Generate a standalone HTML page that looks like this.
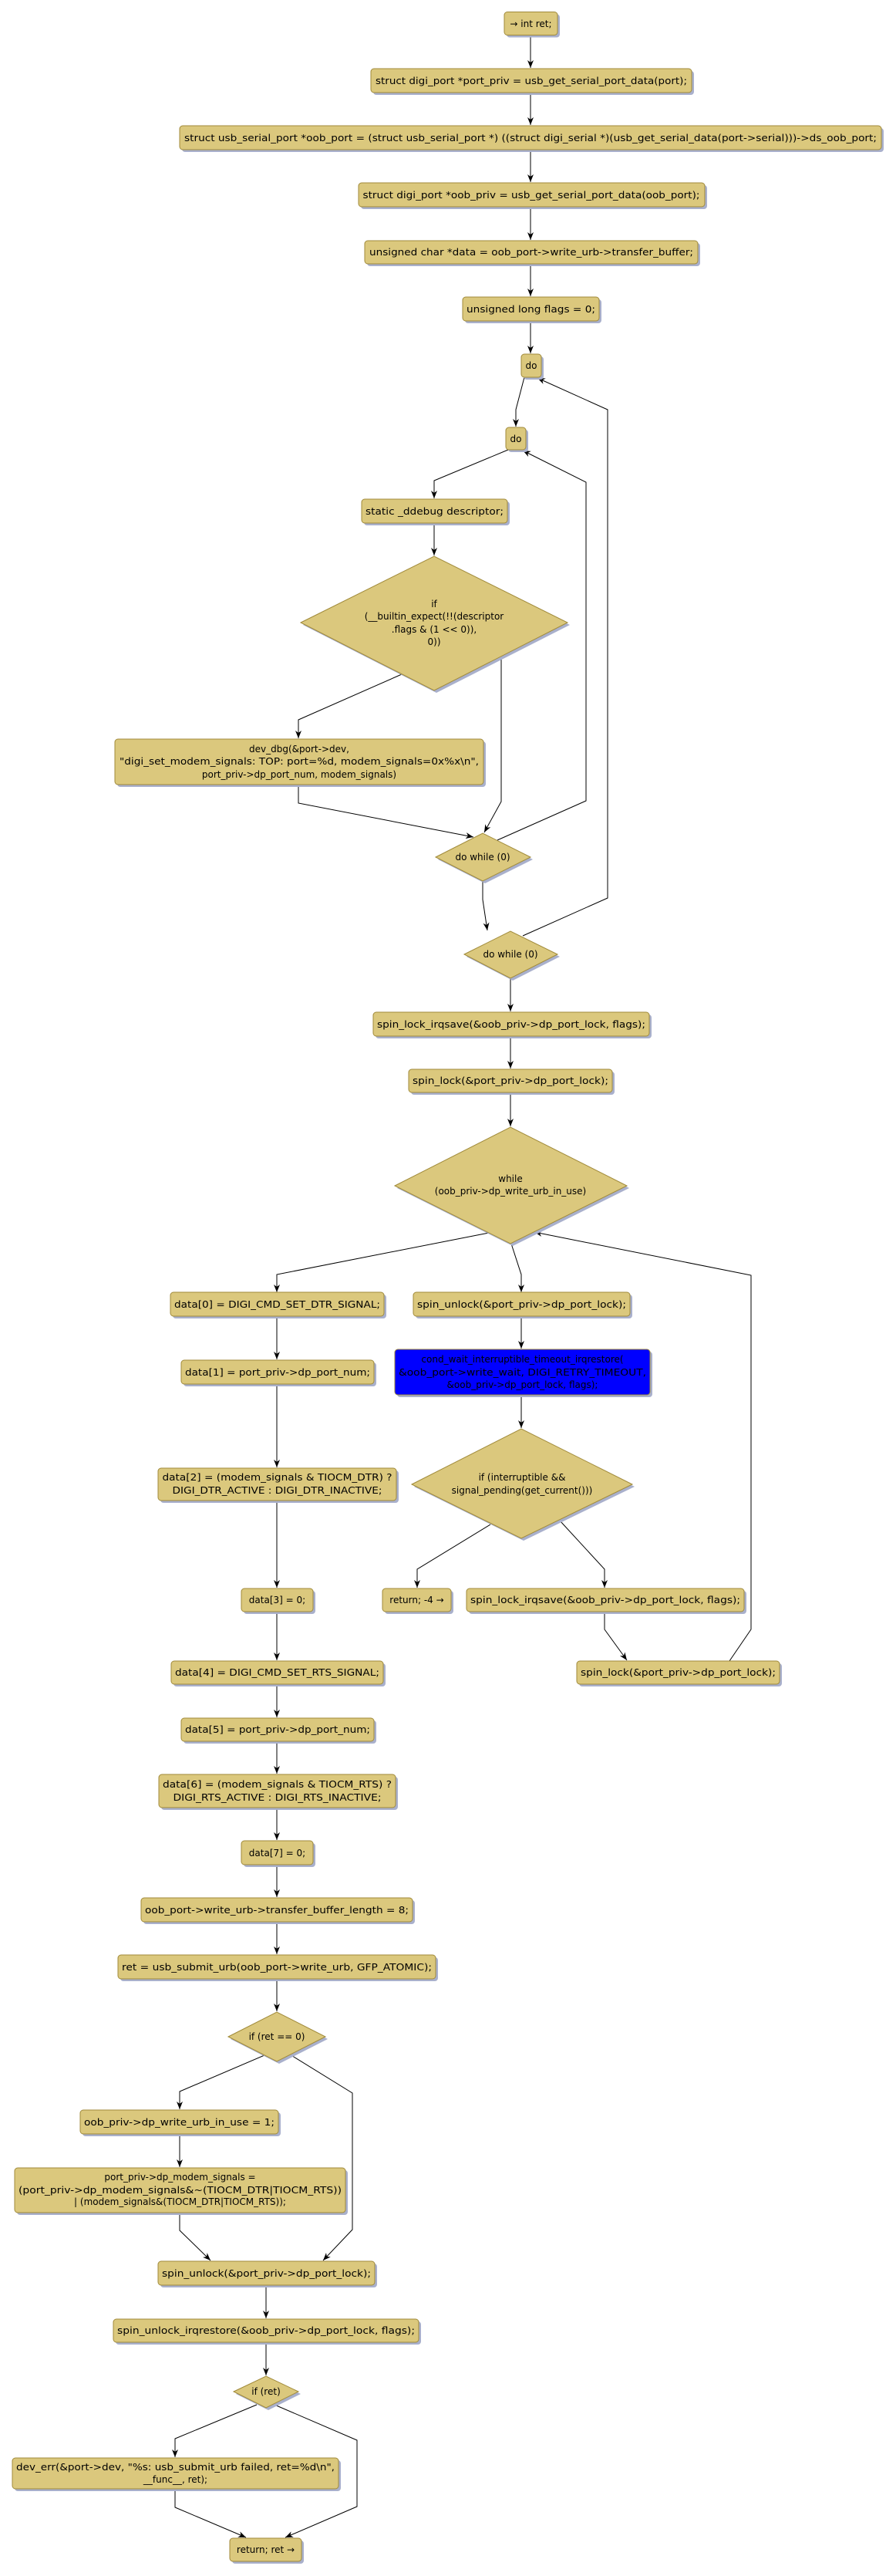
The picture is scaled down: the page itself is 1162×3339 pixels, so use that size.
<!DOCTYPE html>
<html><head><meta charset="utf-8"><style>
html,body{margin:0;padding:0;background:#fff;}
svg{display:block;}
text{font-family:"DejaVu Sans","Liberation Sans",sans-serif;font-size:12px;fill:#000;}
.b{fill:#DBC87D;stroke:#A08A3A;stroke-width:1;}
.s{fill:#A9B0CC;}
.l{fill:none;stroke:#000;stroke-width:1;}
</style></head><body>
<svg width="1162" height="3339" viewBox="0 0 1162 3339" xmlns="http://www.w3.org/2000/svg">
<defs>
<marker id="a" viewBox="0 0 10 10" refX="10" refY="5" markerWidth="10" markerHeight="10" orient="auto" markerUnits="userSpaceOnUse">
<path d="M0,1 L10,5 L0,9 L3,5 Z" fill="#000"/>
</marker>
</defs>

<g class="l">
<polyline class="l" points="688,46 688,88" marker-end="url(#a)"/>
<polyline class="l" points="688,120 688,162" marker-end="url(#a)"/>
<polyline class="l" points="688,194 688,236" marker-end="url(#a)"/>
<polyline class="l" points="688,268 688,311" marker-end="url(#a)"/>
<polyline class="l" points="688,342 688,384" marker-end="url(#a)"/>
<polyline class="l" points="688,416 688,458" marker-end="url(#a)"/>
<polyline class="l" points="680,489 669,531 669,553" marker-end="url(#a)"/>
<polyline class="l" points="659,583 563,623 563,646" marker-end="url(#a)"/>
<polyline class="l" points="563,678 563,720" marker-end="url(#a)"/>
<polyline class="l" points="521,874 387,933 387,957" marker-end="url(#a)"/>
<polyline class="l" points="650,851 650,1039 628,1079" marker-end="url(#a)"/>
<polyline class="l" points="387,1017 387,1041 614,1085" marker-end="url(#a)"/>
<polyline class="l" points="645,1089 760,1038 760,625 678,584" marker-end="url(#a)"/>
<polyline class="l" points="626,1142 626,1166 632,1206" marker-end="url(#a)"/>
<polyline class="l" points="678,1213 788,1164 788,531 697,490" marker-end="url(#a)"/>
<polyline class="l" points="662,1268 662,1311" marker-end="url(#a)"/>
<polyline class="l" points="662,1343 662,1385" marker-end="url(#a)"/>
<polyline class="l" points="662,1416 662,1460" marker-end="url(#a)"/>
<polyline class="l" points="634,1598 359,1652 359,1675" marker-end="url(#a)"/>
<polyline class="l" points="663,1612 676,1652 676,1675" marker-end="url(#a)"/>
<polyline class="l" points="946,2153 974,2112 974,1653 693,1597" marker-end="url(#a)"/>
<polyline class="l" points="676,1706 676,1748" marker-end="url(#a)"/>
<polyline class="l" points="676,1808 676,1851" marker-end="url(#a)"/>
<polyline class="l" points="636,1976 541,2034 541,2058" marker-end="url(#a)"/>
<polyline class="l" points="726,1971 784,2034 784,2058" marker-end="url(#a)"/>
<polyline class="l" points="784,2089 784,2112 813,2152" marker-end="url(#a)"/>
<polyline class="l" points="359,1706 359,1762" marker-end="url(#a)"/>
<polyline class="l" points="359,1794 359,1902" marker-end="url(#a)"/>
<polyline class="l" points="359,1945 359,2058" marker-end="url(#a)"/>
<polyline class="l" points="359,2089 359,2152" marker-end="url(#a)"/>
<polyline class="l" points="359,2183 359,2226" marker-end="url(#a)"/>
<polyline class="l" points="359,2257 359,2299" marker-end="url(#a)"/>
<polyline class="l" points="359,2343 359,2385" marker-end="url(#a)"/>
<polyline class="l" points="359,2417 359,2459" marker-end="url(#a)"/>
<polyline class="l" points="359,2491 359,2533" marker-end="url(#a)"/>
<polyline class="l" points="359,2565 359,2607" marker-end="url(#a)"/>
<polyline class="l" points="343,2664 233,2711 233,2734" marker-end="url(#a)"/>
<polyline class="l" points="376,2663 457,2713 457,2890 419,2930" marker-end="url(#a)"/>
<polyline class="l" points="233,2766 233,2809" marker-end="url(#a)"/>
<polyline class="l" points="233,2868 233,2891 273,2930" marker-end="url(#a)"/>
<polyline class="l" points="345,2962 345,3005" marker-end="url(#a)"/>
<polyline class="l" points="345,3036 345,3079" marker-end="url(#a)"/>
<polyline class="l" points="333,3117 227,3161 227,3185" marker-end="url(#a)"/>
<polyline class="l" points="356,3117 463,3163 463,3249 370,3289" marker-end="url(#a)"/>
<polyline class="l" points="227,3226 227,3250 319,3289" marker-end="url(#a)"/>
</g>

<g>
<rect class="s" x="657" y="18.5" width="69" height="30" rx="4"/><rect class="b" x="654" y="15.5" width="69" height="30" rx="4"/>
<text x="688.5" y="35" text-anchor="middle">→ int ret;</text>

<rect class="s" x="484" y="92" width="416" height="31" rx="4"/><rect class="b" x="481" y="89" width="416" height="31" rx="4"/>
<text x="689" y="109" text-anchor="middle" textLength="404" lengthAdjust="spacingAndGlyphs">struct digi_port *port_priv = usb_get_serial_port_data(port);</text>

<rect class="s" x="236" y="166" width="910" height="31" rx="4"/><rect class="b" x="233" y="163" width="910" height="31" rx="4"/>
<text x="688" y="183" text-anchor="middle" textLength="898" lengthAdjust="spacingAndGlyphs">struct usb_serial_port *oob_port = (struct usb_serial_port *) ((struct digi_serial *)(usb_get_serial_data(port-&gt;serial)))-&gt;ds_oob_port;</text>

<rect class="s" x="468" y="240" width="449" height="31" rx="4"/><rect class="b" x="465" y="237" width="449" height="31" rx="4"/>
<text x="689" y="257" text-anchor="middle" textLength="437" lengthAdjust="spacingAndGlyphs">struct digi_port *oob_priv = usb_get_serial_port_data(oob_port);</text>

<rect class="s" x="476" y="315" width="432" height="30" rx="4"/><rect class="b" x="473" y="312" width="432" height="30" rx="4"/>
<text x="689" y="331" text-anchor="middle" textLength="420" lengthAdjust="spacingAndGlyphs">unsigned char *data = oob_port-&gt;write_urb-&gt;transfer_buffer;</text>

<rect class="s" x="603" y="388" width="177" height="31" rx="4"/><rect class="b" x="600" y="385" width="177" height="31" rx="4"/>
<text x="688.5" y="405" text-anchor="middle" textLength="167" lengthAdjust="spacingAndGlyphs">unsigned long flags = 0;</text>

<rect class="s" x="679" y="462" width="26" height="30" rx="4"/><rect class="b" x="676" y="459" width="26" height="30" rx="4"/>
<text x="689" y="478" text-anchor="middle">do</text>

<rect class="s" x="659" y="557" width="26" height="29" rx="4"/><rect class="b" x="656" y="554" width="26" height="29" rx="4"/>
<text x="669" y="573" text-anchor="middle">do</text>

<rect class="s" x="472" y="650" width="189" height="31" rx="4"/><rect class="b" x="469" y="647" width="189" height="31" rx="4"/>
<text x="563.5" y="667" text-anchor="middle" textLength="179" lengthAdjust="spacingAndGlyphs">static _ddebug descriptor;</text>

<polygon class="s" points="393,810 566,724 739,810 566,898"/><polygon class="b" points="390,807 563,721 736,807 563,895"/>
<text x="563" y="787" text-anchor="middle">if</text>
<text x="563" y="803" text-anchor="middle">(__builtin_expect(!!(descriptor</text>
<text x="563" y="820" text-anchor="middle">.flags &amp; (1 &lt;&lt; 0)),</text>
<text x="563" y="836" text-anchor="middle">0))</text>

<rect class="s" x="152" y="961" width="478" height="59" rx="4"/><rect class="b" x="149" y="958" width="478" height="59" rx="4"/>
<text x="388" y="975" text-anchor="middle">dev_dbg(&amp;port-&gt;dev,</text>
<text x="388" y="991" text-anchor="middle" textLength="466" lengthAdjust="spacingAndGlyphs">"digi_set_modem_signals: TOP: port=%d, modem_signals=0x%x\n",</text>
<text x="388" y="1008" text-anchor="middle">port_priv-&gt;dp_port_num, modem_signals)</text>

<polygon class="s" points="568,1114 629,1083 691,1114 629,1145"/><polygon class="b" points="565,1111 626,1080 688,1111 626,1142"/>
<text x="626" y="1115" text-anchor="middle">do while (0)</text>

<polygon class="s" points="605,1240 665,1210 726,1240 665,1271"/><polygon class="b" points="602,1237 662,1207 723,1237 662,1268"/>
<text x="662" y="1241" text-anchor="middle">do while (0)</text>

<rect class="s" x="487" y="1315" width="358" height="31" rx="4"/><rect class="b" x="484" y="1312" width="358" height="31" rx="4"/>
<text x="663" y="1332" text-anchor="middle" textLength="348" lengthAdjust="spacingAndGlyphs">spin_lock_irqsave(&amp;oob_priv-&gt;dp_port_lock, flags);</text>

<rect class="s" x="533" y="1389" width="264" height="30" rx="4"/><rect class="b" x="530" y="1386" width="264" height="30" rx="4"/>
<text x="662" y="1405" text-anchor="middle" textLength="254" lengthAdjust="spacingAndGlyphs">spin_lock(&amp;port_priv-&gt;dp_port_lock);</text>

<polygon class="s" points="515,1540 665,1464 816,1540 665,1615"/><polygon class="b" points="512,1537 662,1461 813,1537 662,1612"/>
<text x="662" y="1532" text-anchor="middle">while</text>
<text x="662" y="1548" text-anchor="middle">(oob_priv-&gt;dp_write_urb_in_use)</text>

<rect class="s" x="224" y="1678" width="277" height="31" rx="4"/><rect class="b" x="221" y="1675" width="277" height="31" rx="4"/>
<text x="359.5" y="1695" text-anchor="middle" textLength="267" lengthAdjust="spacingAndGlyphs">data[0] = DIGI_CMD_SET_DTR_SIGNAL;</text>

<rect class="s" x="539" y="1678" width="281" height="31" rx="4"/><rect class="b" x="536" y="1675" width="281" height="31" rx="4"/>
<text x="676.5" y="1695" text-anchor="middle" textLength="271" lengthAdjust="spacingAndGlyphs">spin_unlock(&amp;port_priv-&gt;dp_port_lock);</text>

<rect class="s" x="238" y="1766" width="250" height="31" rx="4"/><rect class="b" x="235" y="1763" width="250" height="31" rx="4"/>
<text x="360" y="1783" text-anchor="middle" textLength="240" lengthAdjust="spacingAndGlyphs">data[1] = port_priv-&gt;dp_port_num;</text>

<rect class="s" x="515" y="1752" width="331" height="59" rx="4"/><rect x="512" y="1749" width="331" height="59" rx="4" fill="#0000FF" stroke="#A08A3A"/>
<text x="677.5" y="1766" text-anchor="middle">cond_wait_interruptible_timeout_irqrestore(</text>
<text x="677.5" y="1783" text-anchor="middle" textLength="321" lengthAdjust="spacingAndGlyphs">&amp;oob_port-&gt;write_wait, DIGI_RETRY_TIMEOUT,</text>
<text x="677.5" y="1799" text-anchor="middle">&amp;oob_priv-&gt;dp_port_lock, flags);</text>

<polygon class="s" points="537,1927 679,1855 823,1927 679,1997"/><polygon class="b" points="534,1924 676,1852 820,1924 676,1994"/>
<text x="677" y="1919" text-anchor="middle">if (interruptible &amp;&amp;</text>
<text x="677" y="1936" text-anchor="middle">signal_pending(get_current()))</text>

<rect class="s" x="208" y="1906" width="309" height="42" rx="4"/><rect class="b" x="205" y="1903" width="309" height="42" rx="4"/>
<text x="359.5" y="1919" text-anchor="middle" textLength="298" lengthAdjust="spacingAndGlyphs">data[2] = (modem_signals &amp; TIOCM_DTR) ?</text>
<text x="359.5" y="1936" text-anchor="middle" textLength="272" lengthAdjust="spacingAndGlyphs">DIGI_DTR_ACTIVE : DIGI_DTR_INACTIVE;</text>

<rect class="s" x="316" y="2062" width="93" height="30" rx="4"/><rect class="b" x="313" y="2059" width="93" height="30" rx="4"/>
<text x="359.5" y="2078" text-anchor="middle">data[3] = 0;</text>

<rect class="s" x="499" y="2062" width="89" height="30" rx="4"/><rect class="b" x="496" y="2059" width="89" height="30" rx="4"/>
<text x="540.5" y="2078" text-anchor="middle">return; -4 →</text>

<rect class="s" x="608" y="2062" width="360" height="30" rx="4"/><rect class="b" x="605" y="2059" width="360" height="30" rx="4"/>
<text x="785" y="2078" text-anchor="middle" textLength="350" lengthAdjust="spacingAndGlyphs">spin_lock_irqsave(&amp;oob_priv-&gt;dp_port_lock, flags);</text>

<rect class="s" x="751" y="2156" width="263" height="30" rx="4"/><rect class="b" x="748" y="2153" width="263" height="30" rx="4"/>
<text x="879.5" y="2172" text-anchor="middle" textLength="253" lengthAdjust="spacingAndGlyphs">spin_lock(&amp;port_priv-&gt;dp_port_lock);</text>

<rect class="s" x="225" y="2156" width="275" height="30" rx="4"/><rect class="b" x="222" y="2153" width="275" height="30" rx="4"/>
<text x="359.5" y="2172" text-anchor="middle" textLength="265" lengthAdjust="spacingAndGlyphs">data[4] = DIGI_CMD_SET_RTS_SIGNAL;</text>

<rect class="s" x="238" y="2230" width="250" height="30" rx="4"/><rect class="b" x="235" y="2227" width="250" height="30" rx="4"/>
<text x="360" y="2246" text-anchor="middle" textLength="240" lengthAdjust="spacingAndGlyphs">data[5] = port_priv-&gt;dp_port_num;</text>

<rect class="s" x="209" y="2303" width="307" height="43" rx="4"/><rect class="b" x="206" y="2300" width="307" height="43" rx="4"/>
<text x="359.5" y="2317" text-anchor="middle" textLength="297" lengthAdjust="spacingAndGlyphs">data[6] = (modem_signals &amp; TIOCM_RTS) ?</text>
<text x="359.5" y="2334" text-anchor="middle" textLength="270" lengthAdjust="spacingAndGlyphs">DIGI_RTS_ACTIVE : DIGI_RTS_INACTIVE;</text>

<rect class="s" x="316" y="2389" width="93" height="31" rx="4"/><rect class="b" x="313" y="2386" width="93" height="31" rx="4"/>
<text x="359.5" y="2406" text-anchor="middle">data[7] = 0;</text>

<rect class="s" x="186" y="2463" width="352" height="31" rx="4"/><rect class="b" x="183" y="2460" width="352" height="31" rx="4"/>
<text x="359" y="2480" text-anchor="middle" textLength="342" lengthAdjust="spacingAndGlyphs">oob_port-&gt;write_urb-&gt;transfer_buffer_length = 8;</text>

<rect class="s" x="156" y="2537" width="412" height="31" rx="4"/><rect class="b" x="153" y="2534" width="412" height="31" rx="4"/>
<text x="359" y="2554" text-anchor="middle" textLength="402" lengthAdjust="spacingAndGlyphs">ret = usb_submit_urb(oob_port-&gt;write_urb, GFP_ATOMIC);</text>

<polygon class="s" points="299,2643 362,2611 425,2643 362,2675"/><polygon class="b" points="296,2640 359,2608 422,2640 359,2672"/>
<text x="359" y="2644" text-anchor="middle">if (ret == 0)</text>

<rect class="s" x="107" y="2738" width="257" height="31" rx="4"/><rect class="b" x="104" y="2735" width="257" height="31" rx="4"/>
<text x="232.5" y="2755" text-anchor="middle" textLength="247" lengthAdjust="spacingAndGlyphs">oob_priv-&gt;dp_write_urb_in_use = 1;</text>

<rect class="s" x="22" y="2813" width="429" height="58" rx="4"/><rect class="b" x="19" y="2810" width="429" height="58" rx="4"/>
<text x="233.5" y="2826" text-anchor="middle">port_priv-&gt;dp_modem_signals =</text>
<text x="233.5" y="2843" text-anchor="middle" textLength="419" lengthAdjust="spacingAndGlyphs">(port_priv-&gt;dp_modem_signals&amp;~(TIOCM_DTR|TIOCM_RTS))</text>
<text x="233.5" y="2858" text-anchor="middle">| (modem_signals&amp;(TIOCM_DTR|TIOCM_RTS));</text>

<rect class="s" x="208" y="2934" width="281" height="31" rx="4"/><rect class="b" x="205" y="2931" width="281" height="31" rx="4"/>
<text x="345.5" y="2951" text-anchor="middle" textLength="271" lengthAdjust="spacingAndGlyphs">spin_unlock(&amp;port_priv-&gt;dp_port_lock);</text>

<rect class="s" x="150" y="3009" width="396" height="30" rx="4"/><rect class="b" x="147" y="3006" width="396" height="30" rx="4"/>
<text x="345" y="3025" text-anchor="middle" textLength="386" lengthAdjust="spacingAndGlyphs">spin_unlock_irqrestore(&amp;oob_priv-&gt;dp_port_lock, flags);</text>

<polygon class="s" points="306,3103 348,3083 390,3103 348,3124"/><polygon class="b" points="303,3100 345,3080 387,3100 345,3121"/>
<text x="345" y="3104" text-anchor="middle">if (ret)</text>

<rect class="s" x="19" y="3189" width="423" height="40" rx="4"/><rect class="b" x="16" y="3186" width="423" height="40" rx="4"/>
<text x="227.5" y="3202" text-anchor="middle" textLength="413" lengthAdjust="spacingAndGlyphs">dev_err(&amp;port-&gt;dev, "%s: usb_submit_urb failed, ret=%d\n",</text>
<text x="227.5" y="3218" text-anchor="middle">__func__, ret);</text>

<rect class="s" x="301" y="3293" width="93" height="30" rx="4"/><rect class="b" x="298" y="3290" width="93" height="30" rx="4"/>
<text x="344.5" y="3309" text-anchor="middle">return; ret →</text>
</g>
</svg>
</body></html>
